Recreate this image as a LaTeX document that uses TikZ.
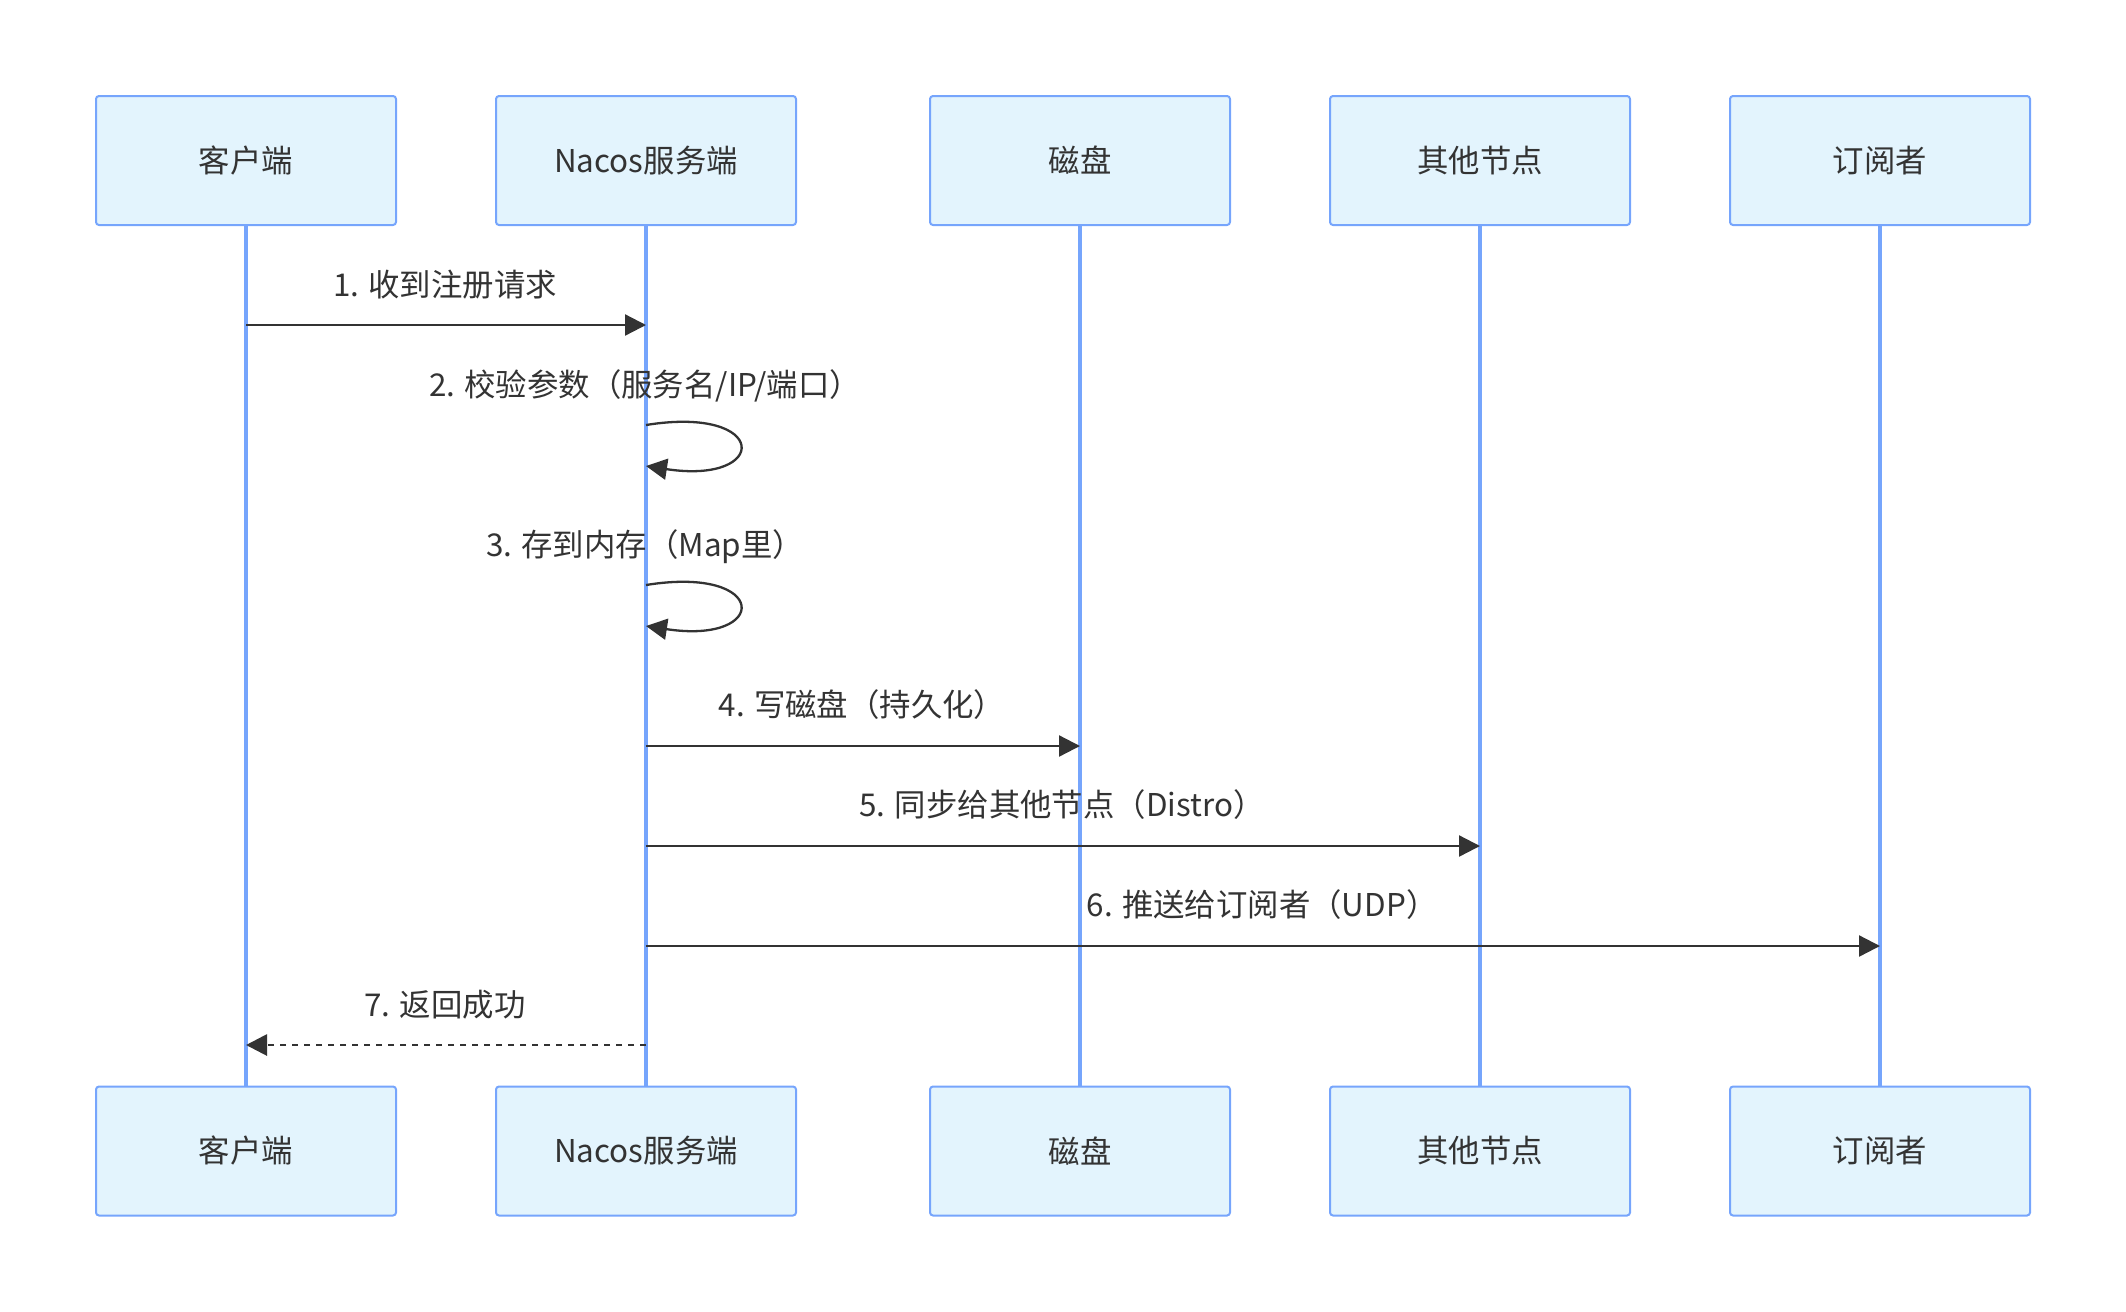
\documentclass[tikz,border=0pt]{standalone}
\usepackage{fontspec}
\setmainfont{Noto Sans CJK SC}
\usepackage{xcolor}
\usepackage{tikz}
\usetikzlibrary{arrows.meta,positioning}

\definecolor{actfill}{HTML}{E3F4FD}
\definecolor{actline}{HTML}{76A5FC}
\definecolor{msgline}{HTML}{333333}

\begin{document}
\begin{tikzpicture}[
  x=0.5pt,y=-0.5pt,
  font=\fontsize{15.7}{19}\selectfont,
  node distance=0pt and 49pt,
  actor/.style={rectangle,rounded corners=1.5pt,draw=actline,line width=1pt,fill=actfill,
                text=msgline,minimum width=150pt,minimum height=64.5pt,inner sep=0pt},
  life/.style={actline,line width=1.6pt},
  msg/.style={msgline,line width=1.15pt,-{Triangle[length=10.5pt,width=10.5pt]}},
  reply/.style={msg,line width=1.4pt,dash pattern=on 3.2pt off 2.8pt},
  lbl/.style={text=msgline,inner sep=0pt,anchor=base}
]
\useasboundingbox (0,0) rectangle (2126,1312);
% top: participants
\node[actor] at (246,160.5) (cl) {客户端};
\node[actor,right=of cl] (srv) {Nacos服务端};
\node[actor,right=66pt of srv] (disk) {磁盘};
\node[actor,right=of disk] (peer) {其他节点};
\node[actor,right=of peer] (sub) {订阅者};
% bottom row + lifelines
\foreach \n/\t in {cl/客户端,srv/Nacos服务端,disk/磁盘,peer/其他节点,sub/订阅者}{
  \node[actor] at (\n |- 0,1151) (\n B) {\t};
  \draw[life] (\n.south) -- (\n B.north);
}
% messages
\draw[msg] (cl |- 0,325) -- (srv |- 0,325);
\node[lbl] at (445,296) (m1) {1. 收到注册请求};
\node[lbl] at (645,396) (m2) {2. 校验参数（服务名/IP/端口）};
\draw[msg] (srv |- 0,425) .. controls (770,405) and (770,485) .. (srv |- 0,466);
\node[lbl] at (645,556) (m3) {3. 存到内存（Map里）};
\draw[msg] (srv |- 0,585) .. controls (770,565) and (770,645) .. (srv |- 0,626);
\draw[msg] (srv |- 0,746) -- (disk |- 0,746);
\node[lbl] at (862,716) (m4) {4. 写磁盘（持久化）};
\draw[msg] (srv |- 0,846) -- (peer |- 0,846);
\node[lbl] at (1062,816) (m5) {5. 同步给其他节点（Distro）};
\draw[msg] (srv |- 0,946) -- (sub |- 0,946);
\node[lbl] at (1262,916) (m6) {6. 推送给订阅者（UDP）};
\draw[reply] (srv |- 0,1045) -- (cl |- 0,1045);
\node[lbl] at (445,1016) (m7) {7. 返回成功};
\end{tikzpicture}
\end{document}
